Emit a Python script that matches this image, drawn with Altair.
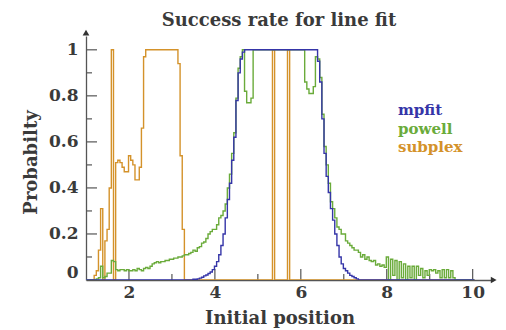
import altair as alt
import pandas as pd

FONT = "DejaVu Serif"
TEXT = "#3a3a3a"
AXIS = "#555555"

# histogram bins: bin k starts at BIN_START + k*BIN_WIDTH
BIN_START = 0.99
BIN_WIDTH = 0.05

SERIES = ["mpfit", "powell", "subplex"]
COLORS = ["#3535a8", "#6aab3a", "#d4922a"]

MPFIT = [
    0, 0, 0, 0, 0, 0, 0, 0, 0, 0,
    0, 0, 0, 0, 0, 0, 0, 0, 0, 0,
    0, 0, 0, 0, 0, 0, 0, 0, 0, 0,
    0, 0, 0, 0, 0, 0, 0, 0, 0, 0,
    0, 0, 0, 0, 0, 0, 0, 0, 0, 0,
    0.003, 0.003, 0.005, 0.008, 0.012, 0.018, 0.022, 0.028, 0.035, 0.045,
    0.06, 0.08, 0.11, 0.15, 0.20, 0.27, 0.35, 0.42, 0.52, 0.62,
    0.78, 0.90, 0.96, 0.99, 1, 1, 1, 1, 1, 1,
    1, 1, 1, 1, 1, 1, 1, 1, 1, 1,
    1, 1, 1, 1, 1, 1, 1, 1, 1, 1,
    1, 1, 1, 1, 1, 1, 1, 1, 0.95, 0.86,
    0.70, 0.55, 0.45, 0.38, 0.31, 0.26, 0.20, 0.15, 0.10, 0.07,
    0.05, 0.04, 0.03, 0.02, 0.015, 0.01, 0.005, 0, 0, 0,
    0, 0, 0, 0, 0, 0, 0, 0, 0, 0,
    0, 0, 0, 0, 0, 0, 0, 0, 0, 0,
    0, 0, 0, 0, 0, 0, 0, 0, 0, 0,
    0, 0, 0, 0, 0, 0, 0, 0, 0, 0,
    0, 0, 0, 0, 0, 0, 0, 0, 0, 0,
    0,
]

POWELL = [
    0, 0, 0, 0, 0, 0.005, 0.01, 0.06, 0.01, 0.015,
    0.03, 0.03, 0.085, 0.08, 0.045, 0.04, 0.045, 0.045, 0.04, 0.045,
    0.04, 0.04, 0.045, 0.04, 0.05, 0.045, 0.04, 0.05, 0.055, 0.05,
    0.06, 0.07, 0.075, 0.08, 0.075, 0.08, 0.08, 0.085, 0.085, 0.09,
    0.09, 0.095, 0.095, 0.10, 0.10, 0.105, 0.11, 0.11, 0.115, 0.12,
    0.13, 0.125, 0.14, 0.145, 0.16, 0.165, 0.18, 0.20, 0.21, 0.22,
    0.22, 0.24, 0.27, 0.28, 0.30, 0.33, 0.40, 0.46, 0.55, 0.64,
    0.79, 0.92, 0.97, 1, 0.82, 0.77, 0.77, 0.79, 1, 1,
    1, 1, 1, 1, 1, 1, 1, 1, 1, 1,
    1, 1, 1, 1, 1, 1, 1, 1, 1, 1,
    1, 1, 0.86, 0.83, 0.81, 0.81, 0.84, 0.97, 0.96, 0.88,
    0.72, 0.58, 0.50, 0.42, 0.34, 0.31, 0.27, 0.23, 0.22, 0.20,
    0.20, 0.17, 0.16, 0.15, 0.14, 0.13, 0.13, 0.12, 0.10, 0.11,
    0.09, 0.10, 0.085, 0.08, 0.085, 0.065, 0.07, 0.06, 0.065, 0.055,
    0.10, 0, 0.09, 0.02, 0.085, 0, 0.08, 0.01, 0.07, 0,
    0.06, 0.01, 0.06, 0, 0.06, 0.02, 0.05, 0.01, 0.04, 0.02,
    0.045, 0.04, 0.045, 0.03, 0.04, 0.01, 0.045, 0.01, 0.045, 0.01,
    0.04, 0.01, 0, 0, 0, 0, 0, 0, 0, 0,
    0,
]

SUBPLEX = [
    0, 0, 0, 0, 0.02, 0.04, 0.13, 0.31, 0, 0.17,
    0.22, 0.40, 1.0, 0, 0.51, 0.52, 0.51, 0.49, 0.47, 0.47,
    0.54, 0.52, 0.50, 0.435, 0.435, 0.49, 0.66, 0.97, 1, 1,
    1, 1, 1, 1, 1, 1, 1, 1, 1, 1,
    1, 1, 1, 0.94, 0.54, 0.22, 0, 0, 0, 0,
    0, 0, 0, 0, 0, 0, 0, 0, 0, 0,
    0, 0, 0, 0, 0, 0, 0, 0, 0, 0,
    0, 0, 0, 0, 0, 0, 0, 0, 0, 0,
    0, 0, 0, 0, 0, 0, 0, 1, 0, 0,
    0, 0, 0, 0, 1, 0, 0, 0, 0, 0,
    0, 0, 0, 0, 0, 0, 0, 0, 0, 0,
    0, 0, 0, 0, 0, 0, 0, 0, 0, 0,
    0, 0, 0, 0, 0, 0, 0, 0, 0, 0,
    0, 0, 0, 0, 0, 0, 0, 0, 0, 0,
    0, 0, 0, 0, 0, 0, 0, 0, 0, 0,
    0, 0, 0, 0, 0, 0, 0, 0, 0, 0,
    0, 0, 0, 0, 0, 0, 0, 0, 0, 0,
    0, 0, 0, 0, 0, 0, 0, 0, 0, 0,
    0,
]

TITLE = "Success rate for line fit"
X_TITLE = "Initial position"
Y_TITLE = "Probabilty"
X_LABELS = [2, 4, 6, 8, 10]
X_MINOR = [3, 5, 7, 9]
Y_LABELS = [0, 0.2, 0.4, 0.6, 0.8, 1]
Y_MAJOR = [0.2, 0.4, 0.6, 0.8, 1]
Y_MINOR = [0.1, 0.3, 0.5, 0.7, 0.9]
X_DOMAIN = [1, 10.45]
Y_DOMAIN = [0, 1.06]
ARROW_X = [10.49]
ARROW_Y = [1.075]

W, H = 406, 244


def frame(name, vals):
    xs = [BIN_START + BIN_WIDTH * i for i in range(len(vals) + 1)]
    ys = list(vals) + [vals[-1]]
    return pd.DataFrame({"x": xs, "p": ys, "series": name})


frames = {n: frame(n, v) for n, v in zip(SERIES, [MPFIT, POWELL, SUBPLEX])}

xs = alt.Scale(domain=X_DOMAIN, nice=False, zero=False)
ys = alt.Scale(domain=Y_DOMAIN, nice=False, zero=False)

lab = dict(labelFont=FONT, labelFontSize=17, labelFontWeight="bold", labelColor=TEXT)
ttl = dict(titleFont=FONT, titleFontSize=18, titleFontWeight="bold", titleColor=TEXT)

x_main = alt.Axis(orient="bottom", values=X_LABELS, ticks=False, tickSize=0, grid=False,
                  domainColor=AXIS, domainWidth=1.3, labelPadding=4, format="d",
                  title=X_TITLE, titleX=193.5, titleY=43,
                  titleBaseline="alphabetic", titleAlign="center", **lab, **ttl)
y_main = alt.Axis(orient="left", values=Y_LABELS, ticks=False, tickSize=0, grid=False,
                  domainColor=AXIS, domainWidth=1.3, labelPadding=8, format="~g",
                  labelOffset={"condition": {"test": "datum.value === 0", "value": -8}, "value": 0},
                  title=Y_TITLE, titleX=-50, titleY=126, titleAngle=270,
                  titleBaseline="alphabetic", titleAlign="center", **lab, **ttl)

layers = []

# inward tick marks, drawn from the tick value lists through the scales
for vals, length in [(X_LABELS, 11), (X_MINOR, 6)]:
    layers.append(alt.Chart(pd.DataFrame({"v": vals}))
                  .mark_rule(color=AXIS, strokeWidth=1.2)
                  .encode(x=alt.X("v:Q", scale=xs, axis=None),
                          y=alt.value(H), y2=alt.value(H - length)))
for vals, length in [(Y_MAJOR, 11), (Y_MINOR, 6)]:
    layers.append(alt.Chart(pd.DataFrame({"v": vals}))
                  .mark_rule(color=AXIS, strokeWidth=1.2)
                  .encode(y=alt.Y("v:Q", scale=ys, axis=None),
                          x=alt.value(0), x2=alt.value(length)))

# draw order: subplex, powell, mpfit (mpfit on top)
first = True
for i in [2, 1, 0]:
    name = SERIES[i]
    enc_x = alt.X("x:Q", scale=xs, axis=x_main if first else None)
    enc_y = alt.Y("p:Q", scale=ys, axis=y_main if first else None)
    layers.append(
        alt.Chart(frames[name]).mark_line(interpolate="step-after", color=COLORS[i],
                                          strokeWidth=1.4, clip=True)
        .encode(x=enc_x, y=enc_y)
    )
    first = False

# axis arrowheads
layers.append(alt.Chart(pd.DataFrame({"x": ARROW_X, "y": [0]}))
              .mark_point(shape="triangle-right", filled=True, size=45, color="#333333", opacity=1)
              .encode(x=alt.X("x:Q", scale=xs, axis=None), y=alt.Y("y:Q", scale=ys, axis=None)))
layers.append(alt.Chart(pd.DataFrame({"x": [1], "y": ARROW_Y}))
              .mark_point(shape="triangle-up", filled=True, size=45, color="#333333", opacity=1)
              .encode(x=alt.X("x:Q", scale=xs, axis=None), y=alt.Y("y:Q", scale=ys, axis=None)))

# legend as coloured text
for i, name in enumerate(SERIES):
    layers.append(alt.Chart(pd.DataFrame({"name": [name]}))
                  .mark_text(align="left", baseline="alphabetic", font=FONT, fontSize=15,
                             fontWeight="bold", color=COLORS[i])
                  .encode(text="name:N", x=alt.value(312), y=alt.value(79 + 18.5 * i)))

# chart title
layers.append(alt.Chart(pd.DataFrame({"t": [TITLE]}))
              .mark_text(align="center", baseline="alphabetic", font=FONT, fontSize=18,
                         fontWeight="bold", color=TEXT)
              .encode(text="t:N", x=alt.value(193), y=alt.value(-10.5)))

chart = (
    alt.layer(*layers)
    .resolve_axis(x="independent", y="independent")
    .properties(
        width=W, height=H,
        autosize=alt.AutoSizeParams(type="none"),
        padding={"left": 78, "top": 28, "right": 6, "bottom": 48},
        background="white",
    )
    .configure_view(stroke=None)
)

chart.save("out.html", embed_options={"renderer": "svg", "actions": False})
